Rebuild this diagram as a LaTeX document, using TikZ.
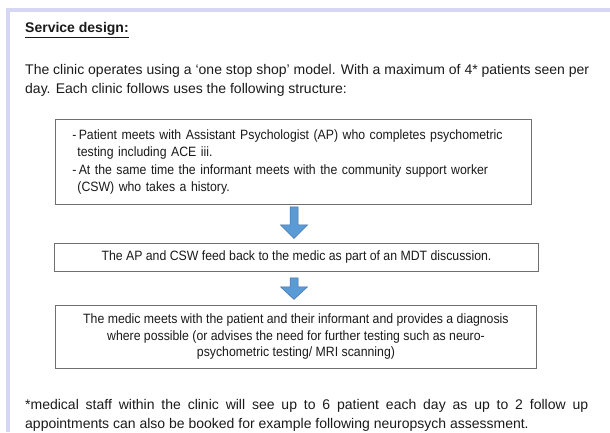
\documentclass[tikz,border=0pt]{standalone}
\usepackage{fontspec}
\setmainfont{Liberation Sans}
\newfontfamily\narrowfont[FakeStretch=0.91]{Liberation Sans}
\usetikzlibrary{positioning, calc}
\definecolor{framelav}{RGB}{214, 214, 246}
\definecolor{boxgrey}{RGB}{112, 112, 112}
\definecolor{arrowblue}{RGB}{91, 155, 213}
\definecolor{arrowedge}{RGB}{65, 113, 170}
\definecolor{inkgrey}{RGB}{26, 26, 26}

\begin{document}
\begin{tikzpicture}[
  x=1pt, y=-1pt,
  stepbox/.style={rectangle, draw=boxgrey, line width=0.9pt, fill=white,
                  inner sep=0pt, align=center, text=inkgrey,
                  font=\narrowfont\fontsize{13.5}{16.5}\selectfont},
  blockarrow/.style={draw=arrowedge, fill=arrowblue, line width=0.5pt, line join=miter},
  body/.style={anchor=north west, inner sep=0pt, align=left, text=inkgrey,
               font=\fontsize{14}{19}\selectfont}
]
  \useasboundingbox (0,0) rectangle (610,432);
  % frame edge
  \draw[framelav, line width=4pt] (610,10) -- (8,10) -- (8,432);

  \node[anchor=west, inner sep=0pt, text=inkgrey, font=\bfseries\fontsize{14}{16}\selectfont]
    (title) at (25,30) {\underline{Service design:}};
  \node[body] (intro) at (25,64)
    {The clinic operates using a `one stop shop' model. With a maximum of 4* patients seen per\\
     day. Each clinic follows uses the following structure:};

  % steps of the clinic
  \node[stepbox, anchor=north west, minimum width=476pt, minimum height=85pt,
        text width=442pt, inner xsep=17pt, align=left] (assess) at (55,119)
    {-\,Patient meets with Assistant Psychologist (AP) who completes psychometric\\
     \hspace*{5pt}testing including ACE iii.\\[2pt]
     -\,At the same time the informant meets with the community support worker\\
     \hspace*{5pt}(CSW) who takes a history.};
  \node[stepbox, anchor=north west, minimum width=484pt, minimum height=28pt] (mdt) at (54,243)
    {The AP and CSW feed back to the medic as part of an MDT discussion.};
  \node[stepbox, anchor=north west, minimum width=481pt, minimum height=63pt] (diag) at (55,305)
    {The medic meets with the patient and their informant and provides a diagnosis\\
     where possible (or advises the need for further testing such as neuro-\\
     psychometric testing/ MRI scanning)};

  % block arrows between the steps
  \coordinate (axis) at (294,0);
  \coordinate (arrA) at ($(assess.south -| axis)+(0,2)$);
  \coordinate (arrB) at ($(mdt.south -| axis)+(0,6)$);
  \draw[blockarrow] (arrA) -- ++(4,0) -- ++(0,18) -- ++(9.5,0) -- ++(-13.5,13.5)
    -- ++(-13.5,-13.5) -- ++(9.5,0) -- ++(0,-18) -- cycle;
  \draw[blockarrow] (arrB) -- ++(4,0) -- ++(0,9) -- ++(9.5,0) -- ++(-13.5,12.5)
    -- ++(-13.5,-12.5) -- ++(9.5,0) -- ++(0,-9) -- cycle;

  \node[body] (note) at (25,399)
    {\makebox[563pt][s]{*medical staff within the clinic will see up to 6 patient each day as up to 2 follow up}\\
     appointments can also be booked for example following neuropsych assessment.};
\end{tikzpicture}
\end{document}
